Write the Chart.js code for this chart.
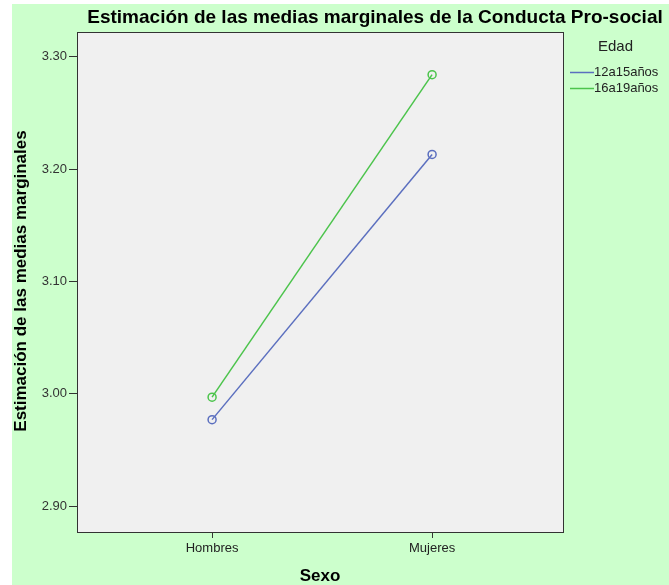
<!DOCTYPE html>
<html>
<head>
<meta charset="utf-8">
<script src="https://cdn.jsdelivr.net/npm/chart.js@4"></script>
<style>
  body { margin: 0; background: #fff; }
  #wrap { width: 669px; height: 585px; }
</style>
</head>
<body>
<div id="wrap"><canvas id="c" width="669" height="585"></canvas></div>
<script>
const categories = ['Hombres', 'Mujeres'];
const seriesNames = ['12a15años', '16a19años'];
const edad12a15 = [2.977, 3.213];
const edad16a19 = [2.997, 3.284];
const yTicks = [2.90, 3.00, 3.10, 3.20, 3.30];

const blue = '#5b6fbf';
const green = '#4cc44c';

const toPoints = (vals) => vals.map((v, i) => ({ x: i, y: v }));

// background, plot box, titles and legend drawn around the chart
const frame = {
  id: 'frame',
  beforeDraw(chart) {
    const { ctx, chartArea: a } = chart;
    ctx.save();
    ctx.fillStyle = '#ccffcc';
    ctx.fillRect(12, 4, 669 - 12, 585 - 4);
    ctx.fillStyle = '#f0f0f0';
    ctx.fillRect(a.left, a.top, a.right - a.left, a.bottom - a.top);
    ctx.restore();
  },
  afterDraw(chart) {
    const { ctx, chartArea: a } = chart;
    ctx.save();
    ctx.strokeStyle = '#333';
    ctx.lineWidth = 1;
    ctx.strokeRect(a.left + 0.5, a.top + 0.5, a.right - a.left, a.bottom - a.top);

    ctx.fillStyle = '#000';
    ctx.textAlign = 'center';
    ctx.textBaseline = 'middle';
    ctx.font = 'bold 19px "Liberation Sans", Arial, sans-serif';
    ctx.fillText('Estimación de las medias marginales de la Conducta Pro-social', 375, 18);

    ctx.font = 'bold 17px "Liberation Sans", Arial, sans-serif';
    ctx.fillText('Sexo', (a.left + a.right) / 2, 576);
    ctx.translate(21, 281);
    ctx.rotate(-Math.PI / 2);
    ctx.fillText('Estimación de las medias marginales', 0, 0);
    ctx.restore();

    // legend
    ctx.save();
    ctx.fillStyle = '#222';
    ctx.textBaseline = 'middle';
    ctx.textAlign = 'left';
    ctx.font = '15px "Liberation Sans", Arial, sans-serif';
    ctx.fillText('Edad', 598, 47);
    ctx.font = '13px "Liberation Sans", Arial, sans-serif';
    chart.data.datasets.forEach((ds, i) => {
      const y = 72 + i * 16;
      ctx.strokeStyle = ds.borderColor;
      ctx.lineWidth = 1.5;
      ctx.beginPath();
      ctx.moveTo(570, y + 0.5);
      ctx.lineTo(594, y + 0.5);
      ctx.stroke();
      ctx.fillText(ds.label, 594, y);
    });
    ctx.restore();
  }
};

new Chart(document.getElementById('c'), {
  type: 'line',
  data: {
    datasets: [
      {
        label: seriesNames[0],
        data: toPoints(edad12a15),
        borderColor: blue,
        backgroundColor: 'transparent',
        pointBorderColor: blue,
        pointBackgroundColor: 'transparent',
        borderWidth: 1.5,
        pointRadius: 4,
        pointBorderWidth: 1.5
      },
      {
        label: seriesNames[1],
        data: toPoints(edad16a19),
        borderColor: green,
        backgroundColor: 'transparent',
        pointBorderColor: green,
        pointBackgroundColor: 'transparent',
        borderWidth: 1.5,
        pointRadius: 4,
        pointBorderWidth: 1.5
      }
    ]
  },
  options: {
    responsive: false,
    animation: false,
    layout: { padding: { left: 12, top: 32, right: 106, bottom: 0 } },
    plugins: {
      legend: { display: false },
      title: { display: false },
      tooltip: { enabled: false }
    },
    scales: {
      x: {
        type: 'linear',
        min: -0.614,
        max: 1.595,
        afterFit: (s) => { s.height = 53; },
        afterBuildTicks: (s) => { s.ticks = categories.map((c, i) => ({ value: i })); },
        ticks: {
          callback: (v) => categories[v],
          color: '#222',
          font: { family: '"Liberation Sans", Arial, sans-serif', size: 13 },
          padding: 3,
          maxRotation: 0
        },
        grid: { drawOnChartArea: false, tickLength: 6, color: '#333', tickColor: '#333' },
        border: { color: '#333' }
      },
      y: {
        min: 2.877,
        max: 3.322,
        afterFit: (s) => { s.width = 65; },
        afterBuildTicks: (s) => { s.ticks = yTicks.map(v => ({ value: v })); },
        ticks: {
          callback: (v) => v.toFixed(2),
          color: '#333',
          font: { family: '"Liberation Sans", Arial, sans-serif', size: 13 },
          padding: 2
        },
        grid: { drawOnChartArea: false, tickLength: 8, color: '#333', tickColor: '#333' },
        border: { color: '#333' }
      }
    }
  },
  plugins: [frame]
});
</script>
</body>
</html>
